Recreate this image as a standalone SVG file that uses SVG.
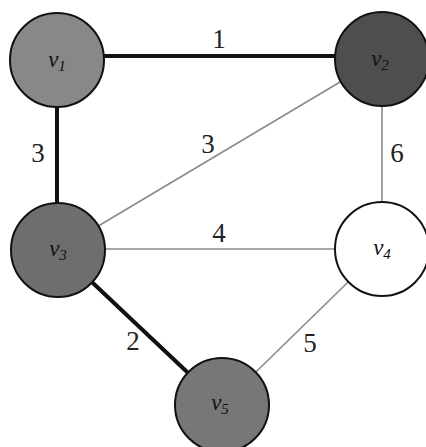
<svg xmlns="http://www.w3.org/2000/svg" width="426" height="447" viewBox="0 0 426 447">
<style>
.thick{stroke:#111;stroke-width:4;fill:none}
.thin{stroke:#8a8a8a;stroke-width:1.6;fill:none}
.node{stroke:#111;stroke-width:2}
.lbl{font-family:"Liberation Serif","DejaVu Serif",serif;font-style:italic;font-size:23px;fill:#111;text-anchor:middle}
.w{font-family:"Liberation Serif","DejaVu Serif",serif;font-size:27px;fill:#222;text-anchor:middle}
</style>
<rect width="426" height="447" fill="#fff"/>
<g id="connectors">
<line class="thick" x1="57" y1="56" x2="382" y2="56"/>
<line class="thick" x1="57" y1="58" x2="57" y2="250"/>
<line class="thick" x1="58" y1="250" x2="222" y2="405"/>
<line class="thin" x1="58" y1="250" x2="382" y2="57"/>
<line class="thin" x1="382" y1="57" x2="382" y2="249"/>
<line class="thin" x1="58" y1="249" x2="382" y2="249"/>
<line class="thin" x1="382" y1="249" x2="222" y2="405"/>
<text class="w" x="219" y="48">1</text>
<text class="w" x="38" y="162">3</text>
<text class="w" x="208" y="153">3</text>
<text class="w" x="397" y="162">6</text>
<text class="w" x="219" y="242">4</text>
<text class="w" x="133" y="350">2</text>
<text class="w" x="310" y="352">5</text>
</g>
<g id="v1"><circle class="node" cx="57" cy="60" r="47" fill="#888"/><text class="lbl" x="57" y="67">v<tspan font-size="15" dy="4">1</tspan></text></g>
<g id="v2"><circle class="node" cx="382" cy="59" r="47" fill="#4e4e4e"/><text class="lbl" x="380" y="66">v<tspan font-size="15" dy="4">2</tspan></text></g>
<g id="v3"><circle class="node" cx="58" cy="250" r="47" fill="#6e6e6e"/><text class="lbl" x="58" y="256">v<tspan font-size="15" dy="4">3</tspan></text></g>
<g id="v4"><circle class="node" cx="382" cy="249" r="47" fill="#fff"/><text class="lbl" x="382" y="255">v<tspan font-size="15" dy="4">4</tspan></text></g>
<g id="v5"><circle class="node" cx="222" cy="405" r="47" fill="#777"/><text class="lbl" x="220" y="410">v<tspan font-size="15" dy="4">5</tspan></text></g>
</svg>
